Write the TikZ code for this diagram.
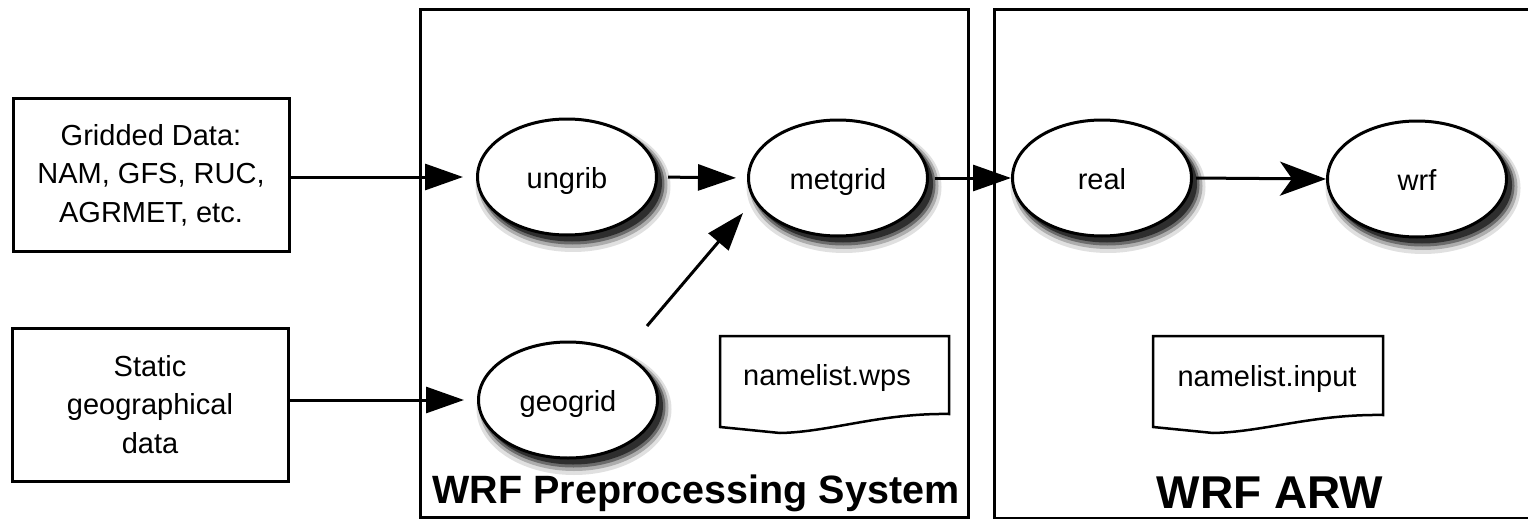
\documentclass[tikz,border=0pt]{standalone}
\usepackage{fontspec}
\setmainfont{Liberation Sans}
\usetikzlibrary{shapes.geometric,arrows.meta}
\begin{document}
\begin{tikzpicture}[x=1pt,y=-1pt,line width=3pt,
  every node/.style={font=\fontsize{29pt}{38.5pt}\selectfont},
  srcbox/.style={draw,rectangle,line width=3pt,minimum width=276pt,minimum height=153pt,align=center,inner sep=0pt},
  proc/.style={draw,ellipse,line width=3pt,fill=white,minimum width=179pt,minimum height=116pt,inner sep=0pt,
    text height=26pt,text depth=4pt},
  frame/.style={draw,line width=3pt},
  arr/.style={line width=3pt,-{Triangle[length=38pt,width=26pt]}},
  bigarr/.style={line width=3pt,-{Stealth[length=46pt,width=34pt,inset=12pt]}},
  doc/.style={line width=2.5pt,line join=miter},
  title/.style={font=\bfseries\fontsize{39.5pt}{44pt}\selectfont,anchor=base},
  sh1/.style={fill=black!12},
  sh2/.style={fill=black!32},
  sh3/.style={fill=black!58},
  sh4/.style={fill=black!82}
]
\path[use as bounding box] (0,0) rectangle (1528,519);

% frames
\draw[frame] (420,10) rectangle (968,517);
\draw[frame] (994,10) rectangle (1531,518);

% soft drop shadows under the ellipses (drawn directly)
\newcommand\ellshadow[2]{%
  \path[sh1] (#1+6,#2+9) ellipse (97.5pt and 66pt);
  \path[sh2] (#1+6,#2+8) ellipse (94.5pt and 63pt);
  \path[sh3] (#1+5.5,#2+7) ellipse (92pt and 60.5pt);
  \path[sh4] (#1+5,#2+6) ellipse (90pt and 58.5pt);}
\ellshadow{567}{177}
\ellshadow{838}{178}
\ellshadow{568}{400}
\ellshadow{1102}{178}
\ellshadow{1417}{179}

% source boxes
\node[srcbox] (gridded) at (151,175) {Gridded Data:\\NAM, GFS, RUC,\\AGRMET, etc.};
\node[srcbox] (static) at (150,404.5) {Static\\geographical\\data};

% process ellipses
\node[proc] (ungrib) at (567,177) {ungrib};
\node[proc] (metgrid) at (838,178) {metgrid};
\node[proc] (geogrid) at (568,400) {geogrid};
\node[proc] (real) at (1102,178) {real};
\node[proc] (wrf) at (1417,179) {wrf};

% connectors
\draw[arr,shorten >=13pt] (gridded.east |- ungrib.west) -- (ungrib.west);
\draw[arr,shorten <=10pt,shorten >=11pt] (ungrib.east) -- (metgrid.west);
\draw[arr,shorten <=6pt] (metgrid.east) -- (real.west);
\draw[bigarr,shorten <=3pt] (real.east) -- (wrf.west);
\draw[arr,shorten >=13pt] (static.east |- geogrid.west) -- (geogrid.west);
\coordinate (gs) at (647,326);
\coordinate (ge) at (743,213);
\draw[arr] (gs) -- (ge);

% namelist documents
\draw[doc] (720,336) -- (949,336) -- (949,414) .. controls (880,413) and (830,432) .. (780,433) -- (720,427) -- cycle;
\node[anchor=base] (nwps) at (827,385) {namelist.wps};
\draw[doc] (1153,336) -- (1383,336) -- (1383,415) .. controls (1313,414) and (1263,432) .. (1213,433) -- (1153,427) -- cycle;
\node[anchor=base] (ninp) at (1267,386) {namelist.input};

% titles
\node[title] (wpst) at (696,503) {WRF Preprocessing System};
\node[title,font=\bfseries\fontsize{46pt}{52pt}\selectfont] (arwt) at (1270,508) {WRF ARW};
\end{tikzpicture}
\end{document}
